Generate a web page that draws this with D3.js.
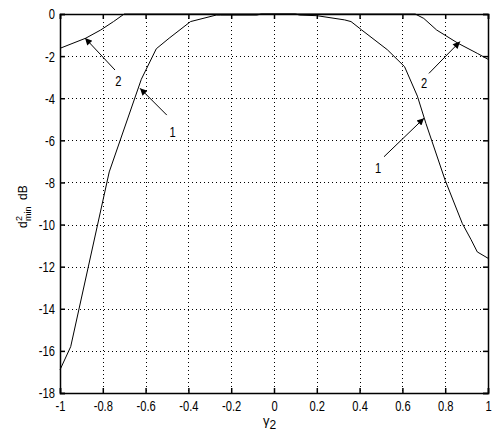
<!DOCTYPE html>
<html>
<head>
<meta charset="utf-8">
<script src="https://cdn.jsdelivr.net/npm/d3@7"></script>
<style>
    body { margin: 0; background: #fff; }
    text { font-family: "Liberation Sans", Arial, sans-serif; fill: #000; }
</style>
</head>
<body>
<div id="chart"></div>
<script>
// Curve 1 (inner) and curve 2 (outer), gamma2 vs d2min in dB
var curve1_x    =   [ -1, -0.95, -0.77, -0.62, -0.55, -0.49, -0.39, -0.27, -0.25, -0.08, -0.06, 0.1, 0.12, 0.2, 0.33, 0.36, 0.41, 0.53, 0.61, 0.67, 0.71, 0.80, 0.88, 0.92, 0.95, 1 ];
var curve1_y    =   [ -16.9, -15.8, -7.5, -3.1, -1.65, -1.15, -0.36, -0.05, -0.05, -0.05, 0, 0, -0.05, -0.08, -0.28, -0.36, -0.76, -1.7, -2.5, -3.9, -5.2, -7.9, -9.95, -10.7, -11.3, -11.6 ];
var curve2_x    =   [ -1, -0.88, -0.81, -0.75, -0.70, 0.66, 0.70, 0.76, 0.86, 0.95, 1 ];
var curve2_y    =   [ -1.63, -1.15, -0.76, -0.36, 0, 0, -0.21, -0.76, -1.39, -1.87, -2.15 ];

var x_ticks     =   [ -1, -0.8, -0.6, -0.4, -0.2, 0, 0.2, 0.4, 0.6, 0.8, 1 ];
var y_ticks     =   [ -18, -16, -14, -12, -10, -8, -6, -4, -2, 0 ];

// annotation arrows: label, label position, arrow tail, arrow head
var note_labels =   [ '2', '1', '1', '2' ];
var note_pos    =   [ [ -0.727, -3.16 ], [ -0.474, -5.56 ], [ 0.486, -7.29 ], [ 0.701, -3.25 ] ];
var note_tail   =   [ [ -0.743, -2.66 ], [ -0.501, -4.80 ], [ 0.514, -6.78 ], [ 0.724, -2.82 ] ];
var note_head   =   [ [ -0.883, -1.14 ], [ -0.626, -3.53 ], [ 0.701, -4.95 ], [ 0.869, -1.31 ] ];

var chart_width     =   494;
var chart_height    =   443;
var plot_left   =   60,
    plot_right  =   488,
    plot_top    =   14,
    plot_bottom =   393;
var narrow      =   'scale(0.72,1)';

var svg     =   d3.select( '#chart' )
    .append( 'svg' )
    .attr( 'width', chart_width )
    .attr( 'height', chart_height );

var x_scale =   d3.scaleLinear().domain([ -1, 1 ]).range([ plot_left, plot_right ]);
var y_scale =   d3.scaleLinear().domain([ -18, 0 ]).range([ plot_bottom, plot_top ]);

// Grid (dotted)
var grid    =   svg.append( 'g' )
    .attr( 'stroke', '#000' )
    .attr( 'stroke-width', 1 )
    .attr( 'stroke-dasharray', '1,3' );

grid.selectAll( '.gx' )
    .data( x_ticks.slice( 1, -1 ) )
    .enter()
    .append( 'line' )
    .attr( 'x1', function(d){ return Math.round( x_scale(d) ) + 0.5; } )
    .attr( 'x2', function(d){ return Math.round( x_scale(d) ) + 0.5; } )
    .attr( 'y1', plot_top )
    .attr( 'y2', plot_bottom );

grid.selectAll( '.gy' )
    .data( y_ticks.slice( 1, -1 ) )
    .enter()
    .append( 'line' )
    .attr( 'y1', function(d){ return Math.round( y_scale(d) ) + 0.5; } )
    .attr( 'y2', function(d){ return Math.round( y_scale(d) ) + 0.5; } )
    .attr( 'x1', plot_left )
    .attr( 'x2', plot_right );

// Axes, ticks pointing inward
var fmt     =   function(d){ return String( d ); };

svg.append( 'g' )
    .attr( 'transform', 'translate(0,' + plot_bottom + ')' )
    .call( d3.axisBottom( x_scale ).tickValues( x_ticks ).tickFormat( fmt ).tickSize( -5 ).tickPadding( 7 ) );

svg.append( 'g' )
    .attr( 'transform', 'translate(' + plot_left + ',0)' )
    .call( d3.axisLeft( y_scale ).tickValues( y_ticks ).tickFormat( fmt ).tickSize( -5 ).tickPadding( 7 ) );

svg.append( 'g' )
    .attr( 'transform', 'translate(0,' + plot_top + ')' )
    .call( d3.axisTop( x_scale ).tickValues( x_ticks ).tickFormat( '' ).tickSize( -5 ) );

svg.append( 'g' )
    .attr( 'transform', 'translate(' + plot_right + ',0)' )
    .call( d3.axisRight( y_scale ).tickValues( y_ticks ).tickFormat( '' ).tickSize( -5 ) );

svg.selectAll( '.domain, .tick line' )
    .attr( 'stroke', '#000' )
    .attr( 'stroke-width', 1.5 );

svg.selectAll( '.tick text' )
    .attr( 'font-family', '"Liberation Sans", Arial, sans-serif' )
    .attr( 'font-size', 15.5 )
    .attr( 'fill', '#000' )
    .attr( 'transform', narrow );

// Curves
var line    =   d3.line()
    .x(function(d){ return x_scale( d[0] ); })
    .y(function(d){ return y_scale( d[1] ); });

[ [ curve1_x, curve1_y ], [ curve2_x, curve2_y ] ].forEach(function(c){
    svg.append( 'path' )
        .datum( d3.zip( c[0], c[1] ) )
        .attr( 'd', line )
        .attr( 'fill', 'none' )
        .attr( 'stroke', '#000' )
        .attr( 'stroke-width', 1 );
});

// Arrow annotations
svg.append( 'defs' )
    .append( 'marker' )
    .attr( 'id', 'head' )
    .attr( 'viewBox', '0 0 10 10' )
    .attr( 'refX', 10 )
    .attr( 'refY', 5 )
    .attr( 'markerWidth', 10 )
    .attr( 'markerHeight', 7 )
    .attr( 'markerUnits', 'userSpaceOnUse' )
    .attr( 'orient', 'auto' )
    .append( 'path' )
    .attr( 'd', 'M0,0 L10,5 L0,10 Z' )
    .attr( 'fill', '#000' );

note_labels.forEach(function(t, i){
    svg.append( 'line' )
        .attr( 'x1', x_scale( note_tail[i][0] ) )
        .attr( 'y1', y_scale( note_tail[i][1] ) )
        .attr( 'x2', x_scale( note_head[i][0] ) )
        .attr( 'y2', y_scale( note_head[i][1] ) )
        .attr( 'stroke', '#000' )
        .attr( 'stroke-width', 1 )
        .attr( 'marker-end', 'url(#head)' );

    svg.append( 'text' )
        .attr( 'transform', 'translate(' + x_scale( note_pos[i][0] ) + ',' + y_scale( note_pos[i][1] ) + ') ' + narrow )
        .attr( 'text-anchor', 'middle' )
        .attr( 'dy', '0.36em' )
        .attr( 'font-size', 15.5 )
        .text( t );
});

// Axis labels
var xl  =   svg.append( 'text' )
    .attr( 'x', 263 )
    .attr( 'y', 425 )
    .attr( 'font-family', '"DejaVu Serif", serif' )
    .attr( 'font-size', 13 );
xl.append( 'tspan' ).text( 'γ' );
xl.append( 'tspan' ).attr( 'dy', 4 ).attr( 'font-size', 12 ).attr( 'font-family', '"Liberation Sans", sans-serif' ).text( '2' );

var yl  =   svg.append( 'g' )
    .attr( 'transform', 'translate(27,228) rotate(-90)' )
    .attr( 'font-size', 12 );
yl.append( 'text' ).attr( 'x', 0 ).attr( 'y', 0 ).text( 'd' );
yl.append( 'text' ).attr( 'x', 7 ).attr( 'y', -5 ).attr( 'font-size', 9 ).text( '2' );
yl.append( 'text' ).attr( 'x', 7 ).attr( 'y', 4 ).attr( 'font-size', 9 ).text( 'min' );
yl.append( 'text' ).attr( 'x', 28 ).attr( 'y', 0 ).text( 'dB' );
</script>
</body>
</html>
